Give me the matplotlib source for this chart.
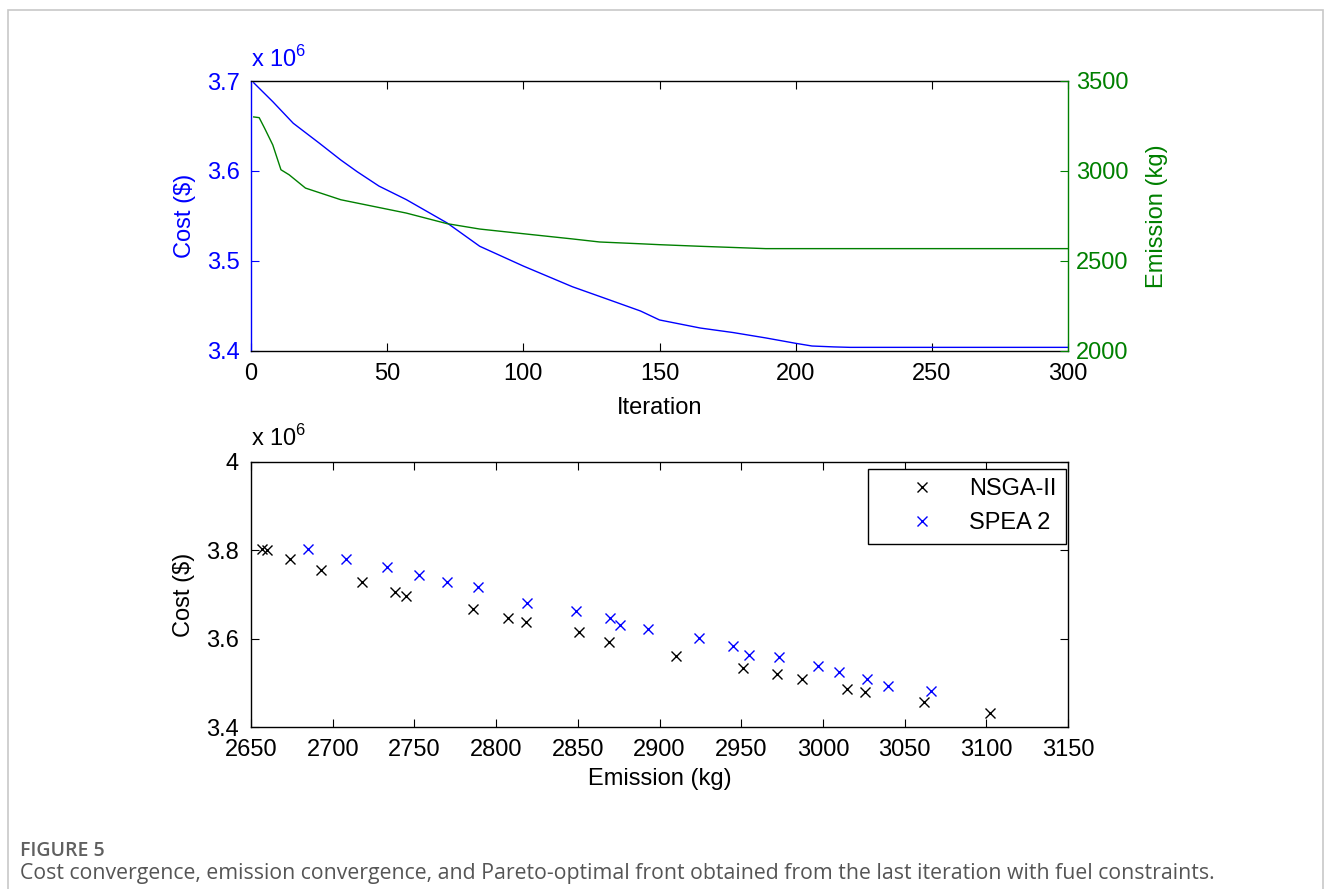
import numpy as np
import matplotlib
matplotlib.use("Agg")
import matplotlib.pyplot as plt
from matplotlib.patches import Rectangle

# ── Fonts ───────────────────────────────────────────────────────────────────
plt.rcParams["font.family"] = ["Liberation Sans", "DejaVu Sans"]
plt.rcParams["mathtext.fontset"] = "custom"
plt.rcParams["mathtext.rm"] = "Liberation Sans"

# ── Data (cost in units of 1e6 $) ───────────────────────────────────────────
iter_cost = [1, 8, 15.5, 25, 33, 39, 47, 57, 72, 84, 100, 118, 131, 143,
             150, 165, 177, 189, 200, 206, 214, 220, 300]
cost_conv = [3.698, 3.677, 3.653, 3.631, 3.612, 3.599, 3.583, 3.568, 3.542,
             3.516, 3.494, 3.471, 3.457, 3.444, 3.434, 3.425, 3.420, 3.414,
             3.408, 3.405, 3.404, 3.4035, 3.4035]

iter_emis = [1, 3, 5, 8, 11, 14, 20, 33, 45, 57, 72, 84, 100, 118, 128, 143,
             150, 165, 189, 300]
emis_conv = [3300, 3296, 3237, 3144, 3006, 2978, 2904, 2839, 2802, 2765, 2706,
             2676, 2650, 2621, 2604, 2594, 2589, 2580, 2567, 2567]

nsga_emis = [2657, 2660, 2674, 2693, 2718, 2738, 2745, 2786, 2807, 2818, 2851,
             2869, 2910, 2951, 2972, 2987, 3015, 3026, 3062, 3102]
nsga_cost = [3.802, 3.801, 3.780, 3.756, 3.729, 3.706, 3.697, 3.668, 3.647,
             3.638, 3.614, 3.593, 3.560, 3.533, 3.519, 3.508, 3.487, 3.479,
             3.456, 3.432]

spea_emis = [2685, 2708, 2733, 2753, 2770, 2789, 2819, 2849, 2870, 2876, 2893,
             2924, 2945, 2955, 2973, 2997, 3010, 3027, 3040, 3066]
spea_cost = [3.802, 3.781, 3.762, 3.744, 3.729, 3.716, 3.681, 3.663, 3.647,
             3.632, 3.622, 3.602, 3.584, 3.564, 3.559, 3.538, 3.524, 3.509,
             3.493, 3.482]

BLUE  = "#0000ff"
GREEN = "#008000"
FS    = 17

fig = plt.figure(figsize=(13.31, 8.89), dpi=100)

# ── Top panel: convergence (plotyy style) ───────────────────────────────────
ax1 = fig.add_axes([251/1331, 1 - 350.5/889, 817/1331, 269.5/889])
ax2 = ax1.twinx()

ax1.plot(iter_cost, cost_conv, color=BLUE, lw=1.0)
ax2.plot(iter_emis, emis_conv, color=GREEN, lw=1.0)

ax1.set_xlim(0, 300)
ax1.set_ylim(3.4, 3.7)
ax1.set_yticks([3.4, 3.5, 3.6, 3.7])
ax1.set_xticks([0, 50, 100, 150, 200, 250, 300])
ax2.set_ylim(2000, 3500)
ax2.set_yticks([2000, 2500, 3000, 3500])

ax1.tick_params(axis="x", direction="in", top=True, length=6, pad=9,
                labelsize=FS, colors="black")
ax1.tick_params(axis="y", direction="in", right=False, length=6, pad=8,
                labelsize=FS, colors=BLUE)
ax2.tick_params(axis="y", direction="in", length=6, pad=6,
                labelsize=FS, colors=GREEN)

ax1.spines["left"].set_color(BLUE)
ax1.spines["right"].set_visible(False)
for s in ("left", "top", "bottom"):
    ax2.spines[s].set_visible(False)
ax2.spines["right"].set_color(GREEN)
for ax in (ax1, ax2):
    for sp in ax.spines.values():
        sp.set_linewidth(1.0)

ax1.set_xlabel("Iteration", fontsize=FS, labelpad=9)
ax1.set_ylabel("Cost ($)", fontsize=FS, color=BLUE, labelpad=8)
ax2.set_ylabel("Emission (kg)", fontsize=FS, color=GREEN, labelpad=12)
ax1.text(0, 1.035, r"x 10$^{\mathregular{6}}$", transform=ax1.transAxes,
         fontsize=FS, color=BLUE, ha="left", va="bottom")

# ── Bottom panel: Pareto fronts ─────────────────────────────────────────────
ax3 = fig.add_axes([251/1331, 1 - 727/889, 817/1331, 265/889])
ax3.plot(nsga_emis, nsga_cost, ls="none", marker="x", ms=7.5, mew=1.0,
         color="black", label="NSGA-II")
ax3.plot(spea_emis, spea_cost, ls="none", marker="x", ms=7.5, mew=1.0,
         color=BLUE, label="SPEA 2")
ax3.set_xlim(2650, 3150)
ax3.set_ylim(3.4, 4.0)
ax3.set_xticks(np.arange(2650, 3151, 50))
ax3.set_yticks([3.4, 3.6, 3.8, 4.0])
ax3.set_yticklabels(["3.4", "3.6", "3.8", "4"])
ax3.tick_params(direction="in", top=True, right=True, length=6, pad=9,
                labelsize=FS)
for sp in ax3.spines.values():
    sp.set_linewidth(1.0)
ax3.set_xlabel("Emission (kg)", fontsize=FS, labelpad=5)
ax3.set_ylabel("Cost ($)", fontsize=FS, labelpad=8)
ax3.text(0, 1.04, r"x 10$^{\mathregular{6}}$", transform=ax3.transAxes,
         fontsize=FS, color="black", ha="left", va="bottom")

leg = ax3.legend(loc="upper right", bbox_to_anchor=(1 - 2/817, 1 - 7/265),
                 borderaxespad=0, fontsize=FS, handlelength=3.8,
                 handletextpad=0.1, labelspacing=0.5, borderpad=0.4,
                 fancybox=False, framealpha=1, edgecolor="black")
leg.get_frame().set_linewidth(1.0)

# ── Caption & page frame ────────────────────────────────────────────────────
fig.text(20/1331, 1 - 851/889, "FIGURE 5", fontsize=14, color="#606060",
         family="Open Sans", fontweight="semibold", va="center")
fig.text(20/1331, 1 - 873/889,
         "Cost convergence, emission convergence, and Pareto-optimal front "
         "obtained from the last iteration with fuel constraints.",
         fontsize=15.3, color="#555555", family="Open Sans", va="center")
fig.add_artist(Rectangle((8/1331, -0.05), 1315/1331, 1.05 - 10/889,
                         transform=fig.transFigure, fill=False,
                         edgecolor="#c8c8c8", lw=1.2, clip_on=False))

fig.savefig("out.png", dpi=100)
